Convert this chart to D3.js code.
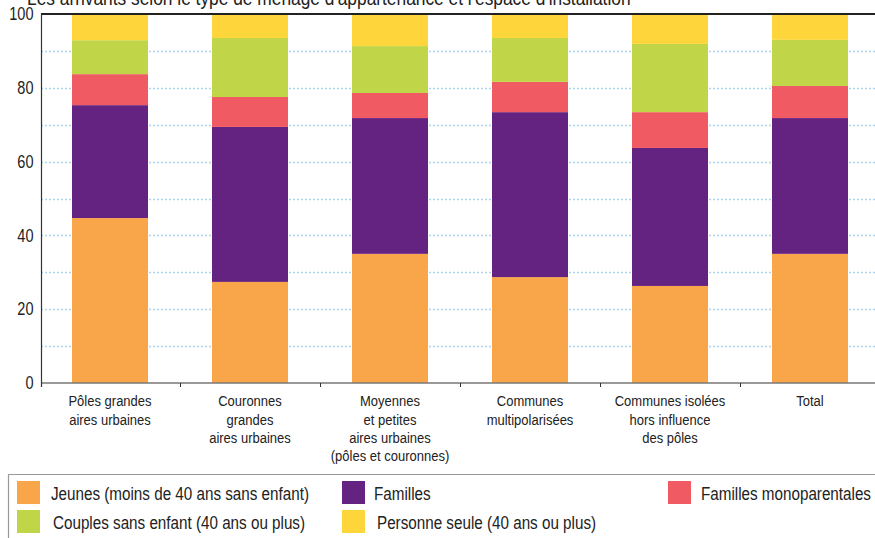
<!DOCTYPE html>
<html>
<head>
<meta charset="utf-8">
<script src="https://cdn.jsdelivr.net/npm/d3@7"></script>
<style>
  html, body { margin: 0; padding: 0; background: #fff; }
  svg { display: block; }
  text { font-family: "Liberation Sans", Arial, sans-serif; }
</style>
</head>
<body>
<svg id="chart" width="875" height="538"></svg>
<script>
const categories = [
  ["Pôles grandes", "aires urbaines"],
  ["Couronnes", "grandes", "aires urbaines"],
  ["Moyennes", "et petites", "aires urbaines", "(pôles et couronnes)"],
  ["Communes", "multipolarisées"],
  ["Communes isolées", "hors influence", "des pôles"],
  ["Total"]
];
const seriesNames = [
  "Jeunes (moins de 40 ans sans enfant)",
  "Familles",
  "Familles monoparentales",
  "Couples sans enfant (40 ans ou plus)",
  "Personne seule (40 ans ou plus)"
];
const jeunes   = [44.7, 27.4, 35.0, 28.7, 26.3, 35.0];
const familles = [30.6, 42.0, 36.8, 44.7, 37.4, 36.8];
const monopar  = [8.4, 8.1, 6.8, 8.2, 9.7, 8.7];
const couples  = [9.2, 16.0, 12.7, 11.9, 18.5, 12.5];
const seule    = [7.1, 6.5, 8.7, 6.5, 8.1, 7.0];
const colors = ["#F9A64A", "#652381", "#F05A62", "#C0D648", "#FED53A"];
const yTicks = [0, 20, 40, 60, 80, 100];
const gridValues = [10, 20, 30, 40, 50, 60, 70, 80, 90];
const title = "Les arrivants selon le type de ménage d'appartenance et l'espace d'installation";

const svg = d3.select("#chart");
const mLeft = 41, mRight = 881, mTop = 14, mBottom = 383;

const x = d3.scaleBand().domain(d3.range(categories.length)).range([mLeft - 1, mRight - 1]).paddingInner(64/140).paddingOuter(32/140);
const y = d3.scaleLinear().domain([0, 100]).range([mBottom, mTop]);

// condensed text helper
function ctext(parent, tx, ty, str, size, sx, anchor) {
  const g = parent.append("g").attr("transform", `translate(${tx},${ty}) scale(${sx},1)`);
  return g.append("text").attr("x", 0).attr("y", 0).attr("dy", "0.35em")
    .attr("font-size", size).attr("fill", "#222").attr("text-anchor", anchor || "start").text(str);
}

// title (clipped at top, as in the reference)
const tg = svg.append("g").attr("transform", "translate(27,5) scale(0.89,1)");
tg.append("text").attr("font-size", 19.5).attr("fill", "#222").text(title);

// gridlines
svg.append("g").selectAll("line").data(gridValues).join("line")
  .attr("x1", mLeft).attr("x2", 875)
  .attr("y1", d => Math.round(y(d)) + 0.5).attr("y2", d => Math.round(y(d)) + 0.5)
  .attr("stroke", "#A9D5EF").attr("stroke-width", 1.5).attr("stroke-dasharray", "2,2");

// stacked data
const table = categories.map((c, i) => ({
  i, s0: jeunes[i], s1: familles[i], s2: monopar[i], s3: couples[i], s4: seule[i]
}));
const stack = d3.stack().keys(["s0", "s1", "s2", "s3", "s4"])(table);

svg.append("g").selectAll("g").data(stack).join("g")
  .attr("fill", (d, k) => colors[k])
  .selectAll("rect").data(d => d).join("rect")
  .attr("x", d => x(d.data.i))
  .attr("width", x.bandwidth())
  .attr("y", d => y(d[1]))
  .attr("height", d => y(d[0]) - y(d[1]));

// top line
svg.append("line").attr("x1", mLeft).attr("x2", 875).attr("y1", mTop).attr("y2", mTop)
  .attr("stroke", "#222").attr("stroke-width", 1.8);

// x axis
const xAxis = svg.append("g").attr("transform", `translate(0,${mBottom})`);
xAxis.append("line").attr("x1", mLeft).attr("x2", 875).attr("y1", 0).attr("y2", 0)
  .attr("stroke", "#777").attr("stroke-width", 1.5);
const bounds = d3.range(categories.length).map(i => x(i) - x.step() * x.paddingInner() / 2);
xAxis.selectAll("line.tick").data(bounds.slice(1)).join("line").attr("class", "tick")
  .attr("x1", d => Math.round(d) + 0.5).attr("x2", d => Math.round(d) + 0.5).attr("y1", 0).attr("y2", 4)
  .attr("stroke", "#333").attr("stroke-width", 1);
categories.forEach((lines, i) => {
  lines.forEach((ln, j) => {
    ctext(xAxis, x(i) + x.bandwidth() / 2, 18 + j * 18.2, ln, 15.5, 0.84, "middle");
  });
});

// y axis
svg.append("line").attr("x1", mLeft + 0.5).attr("x2", mLeft + 0.5).attr("y1", mTop).attr("y2", mBottom + 4)
  .attr("stroke", "#333").attr("stroke-width", 1.2);
const yl = svg.append("g");
yTicks.forEach(v => ctext(yl, 33.5, y(v), String(v), 17.5, 0.83, "end"));

// legend
const lg = svg.append("g");
lg.append("path").attr("d", "M8.5,538 V474.5 H875").attr("fill", "none").attr("stroke", "#999").attr("stroke-width", 1.2);
const legendPos = [
  {sx: 17, tx: 51, row: 0},
  {sx: 342, tx: 374, row: 0},
  {sx: 668, tx: 701, row: 0},
  {sx: 17, tx: 53, row: 1},
  {sx: 342, tx: 377, row: 1}
];
const rowY = [481, 510];
seriesNames.forEach((name, k) => {
  const p = legendPos[k];
  lg.append("rect").attr("x", p.sx).attr("y", rowY[p.row]).attr("width", 23).attr("height", 23).attr("fill", colors[k]);
  ctext(lg, p.tx, rowY[p.row] + 12.5, name, 17.5, 0.87, "start");
});
</script>
</body>
</html>
